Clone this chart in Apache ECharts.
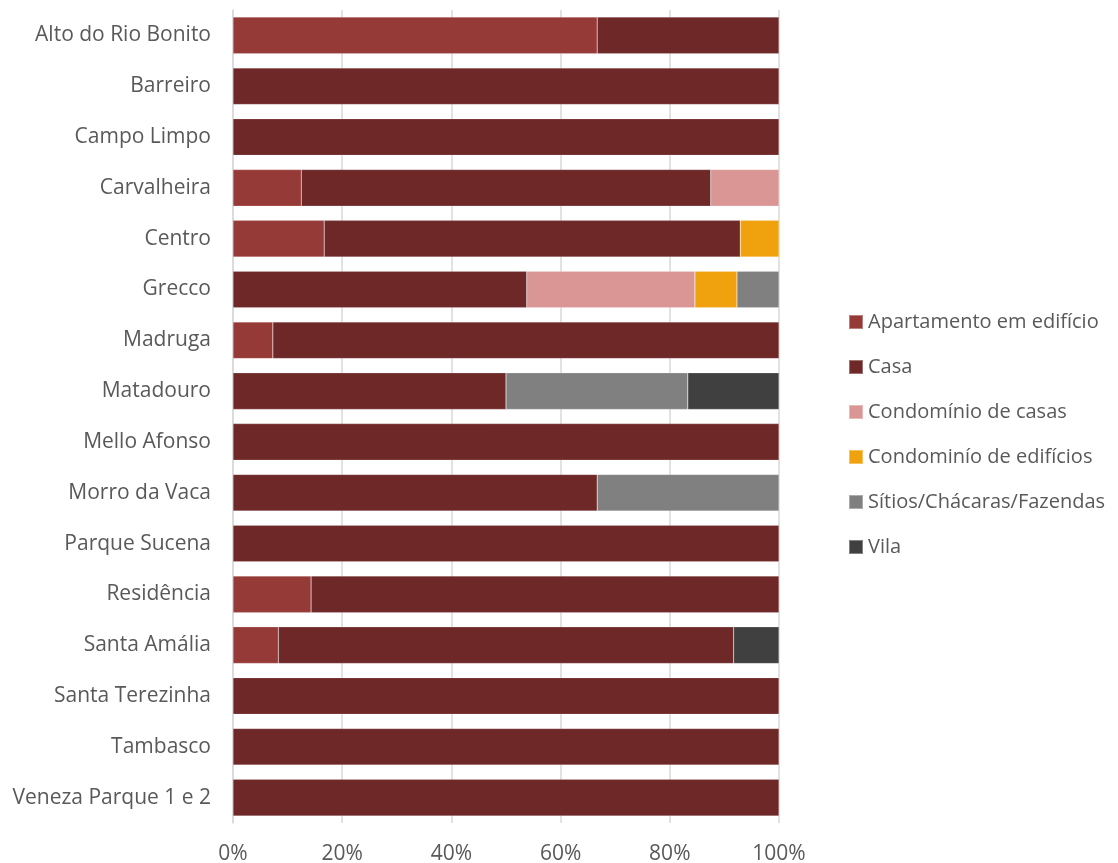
<!DOCTYPE html>
<html>
<head>
<meta charset="utf-8">
<script src="https://cdn.jsdelivr.net/npm/echarts@6/dist/echarts.min.js"></script>
<style>
  html, body { margin: 0; padding: 0; background: #fff; }
  #chart { width: 1118px; height: 863px; }
</style>
</head>
<body>
<div id="chart"></div>
<script>
// bairros e tipos de domicílio (% por bairro)
var bairros = ['Alto do Rio Bonito', 'Barreiro', 'Campo Limpo', 'Carvalheira', 'Centro', 'Grecco',
    'Madruga', 'Matadouro', 'Mello Afonso', 'Morro da Vaca', 'Parque Sucena', 'Residência',
    'Santa Amália', 'Santa Terezinha', 'Tambasco', 'Veneza Parque 1 e 2'];

var apartamento = [66.7, null, null, 12.5, 16.7, null, 7.3, null, null, null, null, 14.3, 8.3, null, null, null];
var casa = [33.3, 100, 100, 75, 76.2, 53.8, 92.7, 50, 100, 66.7, 100, 85.7, 83.4, 100, 100, 100];
var condCasas = [null, null, null, 12.5, null, 30.8, null, null, null, null, null, null, null, null, null, null];
var condEdificios = [null, null, null, null, 7.1, 7.7, null, null, null, null, null, null, null, null, null, null];
var sitios = [null, null, null, null, null, 7.7, null, 33.3, null, 33.3, null, null, null, null, null, null];
var vila = [null, null, null, null, null, null, null, 16.7, null, null, null, null, 8.3, null, null, null];

var xTicks = [0, 20, 40, 60, 80, 100];

var chart = echarts.init(document.getElementById('chart'));

var fonte = '"Open Sans", "Liberation Sans", sans-serif';
var cinza = '#595959';

function serie(nome, dados, cor) {
    return {
        name: nome,
        type: 'bar',
        stack: 'total',
        barCategoryGap: '28%',
        itemStyle: {
            color: cor,
            borderColor: 'rgba(255,255,255,0.35)',
            borderWidth: 0.5
        },
        data: dados
    };
}

var option = {
    animation: false,
    textStyle: { fontFamily: fonte },
    grid: {
        left: 233,
        right: 339,
        top: 10,
        bottom: 40,
        containLabel: false,
        outerBoundsMode: 'none'
    },
    legend: {
        orient: 'vertical',
        left: 843,
        top: 307,
        itemWidth: 14,
        itemHeight: 14,
        itemGap: 25,
        icon: 'rect',
        textStyle: {
            fontSize: 20,
            color: cinza,
            fontFamily: fonte
        },
        data: ['Apartamento em edifício', 'Casa', 'Condomínio de casas',
            'Condominío de edifícios', 'Sítios/Chácaras/Fazendas', 'Vila']
    },
    xAxis: {
        type: 'value',
        min: xTicks[0],
        max: xTicks[xTicks.length - 1],
        interval: 20,
        axisLine: { show: false },
        axisTick: { show: false },
        axisLabel: {
            formatter: '{value}%',
            fontSize: 21,
            color: cinza,
            margin: 21
        },
        splitLine: {
            lineStyle: { color: '#d9d9d9', width: 1.5 }
        }
    },
    yAxis: {
        type: 'category',
        inverse: true,
        data: bairros,
        axisLine: {
            lineStyle: { color: '#d9d9d9', width: 1.5 }
        },
        axisTick: { show: false },
        axisLabel: {
            fontSize: 21,
            color: cinza,
            margin: 22
        }
    },
    series: [
        serie('Apartamento em edifício', apartamento, '#963a38'),
        serie('Casa', casa, '#6e2828'),
        serie('Condomínio de casas', condCasas, '#d99694'),
        serie('Condominío de edifícios', condEdificios, '#f0a20e'),
        serie('Sítios/Chácaras/Fazendas', sitios, '#808080'),
        serie('Vila', vila, '#404040')
    ]
};

chart.setOption(option);
</script>
</body>
</html>
